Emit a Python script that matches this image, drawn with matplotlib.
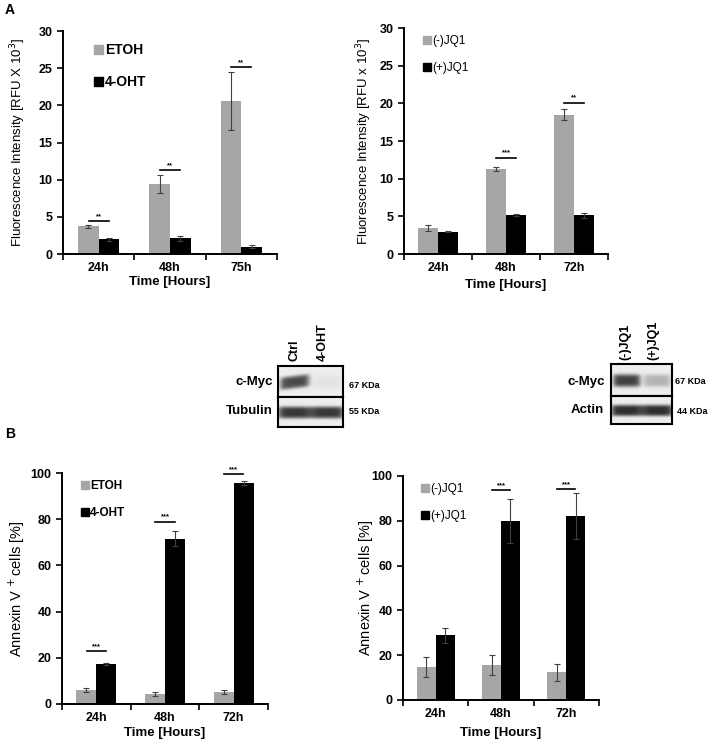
import numpy as np
import matplotlib
matplotlib.use("Agg")
import matplotlib.pyplot as plt
from matplotlib.patches import Patch

plt.rcParams['font.family'] = ['Liberation Sans', 'DejaVu Sans']

W, H = 709, 742
GREY = '#a6a6a6'
BLACK = '#000000'
ERR = '#404040'

# panel A left - fluorescence, ETOH vs 4-OHT
times_a1 = ['24h', '48h', '75h']
etoh_fluo = [3.7, 9.4, 20.6]
etoh_fluo_err = [0.2, 1.2, 3.9]
oht_fluo = [2.0, 2.1, 1.0]
oht_fluo_err = [0.2, 0.35, 0.15]
sig_a1 = ['**', '**', '**']
sig_a1_y = [4.4, 11.3, 25.2]

# panel A right - fluorescence, (-)JQ1 vs (+)JQ1
times_a2 = ['24h', '48h', '72h']
jq1_neg_fluo = [3.5, 11.3, 18.5]
jq1_neg_fluo_err = [0.4, 0.3, 0.75]
jq1_pos_fluo = [2.95, 5.15, 5.15]
jq1_pos_fluo_err = [0.05, 0.1, 0.35]
sig_a2 = ['', '***', '**']
sig_a2_y = [0, 12.8, 20.1]

# panel B left - annexin V, ETOH vs 4-OHT
times_b1 = ['24h', '48h', '72h']
etoh_annex = [6.0, 4.3, 5.3]
etoh_annex_err = [0.8, 0.8, 0.8]
oht_annex = [17.3, 71.6, 95.8]
oht_annex_err = [0.3, 3.4, 0.8]
sig_b1 = ['***', '***', '***']
sig_b1_y = [22.8, 79.0, 99.6]

# panel B right - annexin V, (-)JQ1 vs (+)JQ1
times_b2 = ['24h', '48h', '72h']
jq1_neg_annex = [14.8, 15.6, 12.4]
jq1_neg_annex_err = [4.4, 4.5, 3.7]
jq1_pos_annex = [28.8, 80.1, 82.1]
jq1_pos_annex_err = [3.5, 9.8, 10.1]
sig_b2 = ['', '***', '***']
sig_b2_y = [0, 93.8, 94.0]

# western blot lane intensities (0 = no band, 1 = strong)
blot1_lanes = ['Ctrl', '4-OHT']
blot1_myc = [0.85, 0.05]
blot1_tub = [0.95, 0.95]
blot2_lanes = ['(-)JQ1', '(+)JQ1']
blot2_myc = [0.9, 0.3]
blot2_act = [1.0, 1.0]

fig = plt.figure(figsize=(W / 100, H / 100), dpi=100)


def px_axes(x0, x1, ytop, ybot):
    return fig.add_axes([x0 / W, 1 - ybot / H, (x1 - x0) / W, (ybot - ytop) / H])


def bar_panel(ax, cats, v1, e1, v2, e2, sig, sig_y, ymax, step, names, ylabel,
              leg_xy, leg_size, leg_weight, leg_space, ylab_size):
    x = np.arange(len(cats))
    w = 0.29
    ax.bar(x - w / 2, v1, w, color=GREY, label=names[0])
    ax.bar(x + w / 2, v2, w, color=BLACK, label=names[1])
    ax.errorbar(x - w / 2, v1, yerr=e1, fmt='none', ecolor=ERR, elinewidth=0.8, capsize=2.5, capthick=0.8)
    ax.errorbar(x + w / 2, v2, yerr=e2, fmt='none', ecolor=ERR, elinewidth=0.8, capsize=2.5, capthick=0.8)
    for xi, s, sy in zip(x, sig, sig_y):
        if s:
            ax.plot([xi - 0.14, xi + 0.14], [sy, sy], color=BLACK, lw=1.2)
            ax.text(xi, sy + ymax * 0.004, s, ha='center', va='bottom', fontsize=5.5, fontweight='bold')
    ax.set_xlim(-0.5, len(cats) - 0.5)
    ax.set_ylim(0, ymax)
    ax.set_yticks(np.arange(0, ymax + 1, step))
    ax.set_xticks(np.arange(len(cats) + 1) - 0.5)
    ax.set_xticklabels([])
    ax.set_xticks(x, minor=True)
    ax.set_xticklabels(cats, minor=True)
    ax.tick_params(axis='x', which='minor', length=0, pad=6)
    ax.tick_params(axis='both', which='major', direction='out', length=4, width=1.2)
    for lab in ax.get_yticklabels() + ax.get_xticklabels(minor=True):
        lab.set_fontweight('bold')
        lab.set_fontsize(9)
    for sp in ['top', 'right']:
        ax.spines[sp].set_visible(False)
    for sp in ['left', 'bottom']:
        ax.spines[sp].set_linewidth(1.4)
    ax.set_xlabel('Time [Hours]', fontsize=9.5, fontweight='bold', labelpad=1)
    ax.set_ylabel(ylabel, fontsize=ylab_size)
    handles = [Patch(color=GREY), Patch(color=BLACK)]
    ax.legend(handles, names, loc='upper left', bbox_to_anchor=leg_xy, frameon=False,
              handlelength=0.65, handleheight=0.65, handletextpad=0.1, labelspacing=leg_space,
              prop={'size': leg_size, 'weight': leg_weight}, borderaxespad=0)


ax1 = px_axes(63, 277, 31, 254)
bar_panel(ax1, times_a1, etoh_fluo, etoh_fluo_err, oht_fluo, oht_fluo_err, sig_a1, sig_a1_y,
          30, 5, ['ETOH', '4-OHT'], 'Fluorescence Intensity [RFU X 10$^3$]',
          (0.12, 0.97), 10, 'bold', 1.3, 9.5)
ax1.yaxis.set_label_coords(-0.165, 0.5)
ax1.xaxis.set_label_coords(0.5, -0.1)

ax2 = px_axes(404, 608, 28, 254)
bar_panel(ax2, times_a2, jq1_neg_fluo, jq1_neg_fluo_err, jq1_pos_fluo, jq1_pos_fluo_err, sig_a2, sig_a2_y,
          30, 5, ['(-)JQ1', '(+)JQ1'], 'Fluorescence Intensity [RFU x 10$^3$]',
          (0.07, 0.99), 8.5, 'normal', 1.3, 9.5)
ax2.yaxis.set_label_coords(-0.145, 0.5)
ax2.xaxis.set_label_coords(0.5, -0.11)

ax3 = px_axes(62, 268, 473, 704)
bar_panel(ax3, times_b1, etoh_annex, etoh_annex_err, oht_annex, oht_annex_err, sig_b1, sig_b1_y,
          100, 20, ['ETOH', '4-OHT'], 'Annexin V$^{\\,+}$cells [%]',
          (0.07, 0.99), 8.5, 'bold', 1.3, 10.5)
ax3.yaxis.set_label_coords(-0.17, 0.5)
ax3.xaxis.set_label_coords(0.5, -0.1)

ax4 = px_axes(403, 599, 476, 700)
bar_panel(ax4, times_b2, jq1_neg_annex, jq1_neg_annex_err, jq1_pos_annex, jq1_pos_annex_err, sig_b2, sig_b2_y,
          100, 20, ['(-)JQ1', '(+)JQ1'], 'Annexin V$^{\\,+}$cells [%]',
          (0.07, 0.99), 8.5, 'normal', 1.3, 10.5)
ax4.yaxis.set_label_coords(-0.14, 0.5)
ax4.xaxis.set_label_coords(0.5, -0.12)

fig.text(5 / W, 1 - 10 / H, 'A', fontsize=10, fontweight='bold', va='center')
fig.text(5 / W, 1 - 434 / H, 'B', fontsize=10, fontweight='bold', va='center')


def band_image(levels, width=0.8, smear=False):
    # synthetic blot strip: light background, dark band per lane
    ny, nx = 30, 64
    yy, xx = np.mgrid[0:ny, 0:nx]
    img = np.full((ny, nx), 0.93)
    lane_w = nx / len(levels)
    for i, lv in enumerate(levels):
        cx = lane_w * (i + 0.5)
        prof_x = np.exp(-((xx - cx) / (lane_w * 0.45 * width)) ** 6)
        cy = ny * 0.5
        if smear and i == 0:
            cy = ny * 0.5 - (xx - cx) * 0.12
        prof_y = np.exp(-((yy - cy) / (ny * 0.2)) ** 4)
        img -= 0.75 * lv * prof_x * prof_y
    return np.clip(img, 0, 1)


def blot(x0, x1, ytop, ymid, ybot, top_lv, bot_lv, smear):
    a = px_axes(x0, x1, ytop, ymid)
    a.imshow(band_image(top_lv, 1.0, smear), cmap='gray', vmin=0, vmax=1, aspect='auto')
    b = px_axes(x0, x1, ymid, ybot)
    b.imshow(band_image(bot_lv, 1.15), cmap='gray', vmin=0, vmax=1, aspect='auto')
    for z in (a, b):
        z.set_xticks([])
        z.set_yticks([])
        for sp in z.spines.values():
            sp.set_linewidth(1.5)


blot(278, 343, 366, 397, 427, blot1_myc, blot1_tub, True)
blot(611, 672, 364, 396, 424, blot2_myc, blot2_act, False)


def ftext(x, y, s, **kw):
    fig.text(x / W, 1 - y / H, s, **kw)


# lane labels
ftext(294, 361, blot1_lanes[0], rotation=90, ha='center', va='bottom', fontsize=9, fontweight='bold')
ftext(323, 361, blot1_lanes[1], rotation=90, ha='center', va='bottom', fontsize=9, fontweight='bold')
ftext(625, 360, blot2_lanes[0], rotation=90, ha='center', va='bottom', fontsize=9, fontweight='bold')
ftext(653, 360, blot2_lanes[1], rotation=90, ha='center', va='bottom', fontsize=9, fontweight='bold')

ftext(273, 382, 'c-Myc', ha='right', va='center', fontsize=9.5, fontweight='bold')
ftext(273, 411, 'Tubulin', ha='right', va='center', fontsize=9.5, fontweight='bold')
ftext(349, 385, '67 KDa', ha='left', va='center', fontsize=6.5, fontweight='bold')
ftext(349, 411, '55 KDa', ha='left', va='center', fontsize=6.5, fontweight='bold')

ftext(605, 382, 'c-Myc', ha='right', va='center', fontsize=9.5, fontweight='bold')
ftext(604, 410, 'Actin', ha='right', va='center', fontsize=9.5, fontweight='bold')
ftext(675, 381, '67 KDa', ha='left', va='center', fontsize=6.5, fontweight='bold')
ftext(677, 412, '44 KDa', ha='left', va='center', fontsize=6.5, fontweight='bold')

fig.savefig('out.png', dpi=100)
